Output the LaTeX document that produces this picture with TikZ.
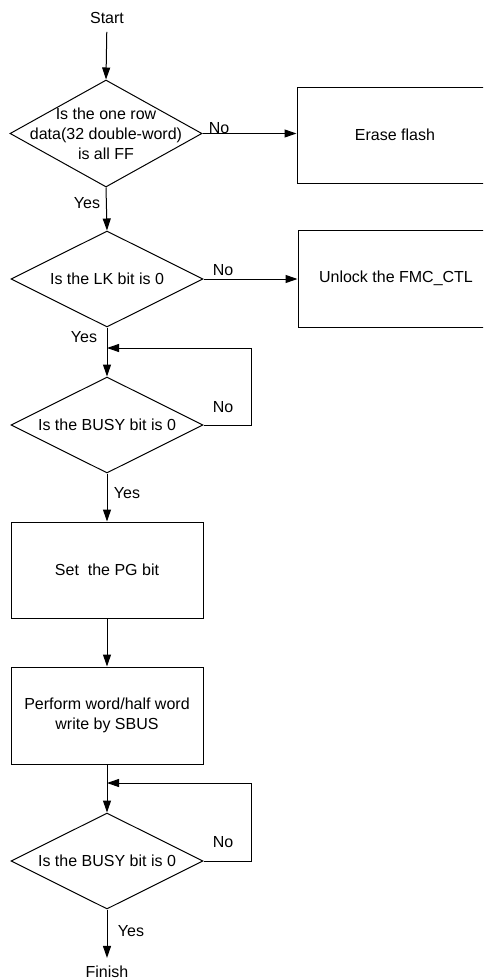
\documentclass[tikz,border=0pt]{standalone}
\usepackage{fontspec}
\setmainfont{Liberation Sans}
\usetikzlibrary{shapes.geometric,arrows.meta}

\tikzset{
  base/.style={font=\fontsize{16}{20}\selectfont},
  decision/.style={draw, diamond, line width=1pt, inner sep=0pt,
    minimum width=192pt, minimum height=96pt},
  procbox/.style={draw, rectangle, line width=1pt, inner sep=0pt,
    minimum width=192pt, minimum height=96pt},
  wideproc/.style={procbox, minimum width=196pt},
  txt/.style={base, align=center, inner sep=0pt},
  terminal/.style={base, inner xsep=2pt, inner ysep=8pt},
  lbl/.style={base, inner sep=0pt},
  arr/.style={line width=1pt, -{Triangle[length=12pt, width=8pt]}},
  ln/.style={line width=1pt},
}

\begin{document}
\begin{tikzpicture}[x=1pt, y=-1pt]
  \clip (0,0) rectangle (483,980);

  % terminals
  \node[terminal] (start) at (107,18) {Start};
  \node[terminal] (finish) at (107,972) {Finish};

  % decisions
  \node[decision, minimum height=107pt] (d1) at (106,133.5) {};
  \node[txt] (d1t) at (d1.center) {Is the one row\\data(32 double-word)\\is all FF};
  \node[decision] (d2) at (107,279) {};
  \node[txt] (d2t) at (d2.center) {Is the LK bit is 0};
  \node[decision] (d3) at (107,425) {};
  \node[txt] (d3t) at (d3.center) {Is the BUSY bit is 0};
  \node[decision] (d4) at (107,861) {};
  \node[txt] (d4t) at (d4.center) {Is the BUSY bit is 0};

  % side actions
  \node[wideproc] (erase) at (395,135) {};
  \node[txt] (eraset) at (erase.center) {Erase flash};
  \node[wideproc, minimum height=97pt] (unlock) at (396,278.5) {};
  \node[txt] (unlockt) at (unlock.center) {Unlock the FMC\_CTL};

  % main actions
  \node[procbox] (setpg) at (107,570) {};
  \node[txt] (setpgt) at (setpg.center) {Set\ \ the PG bit};
  \node[procbox, minimum height=97pt] (write) at (107,715.5) {};
  \node[txt] (writet) at (write.center) {Perform word/half word\\write by SBUS};

  % loop junctions
  \coordinate (j1) at (107,348);
  \coordinate (j2) at (107,783);

  % main flow
  \draw[arr] (start) -- (d1.north);
  \draw[arr] (d1.south) -- (d2.north);
  \draw[arr] (d2.south) -- (d3.north);
  \draw[arr] (d3.south) -- (setpg.north);
  \draw[arr] (setpg.south) -- (write.north);
  \draw[arr] (write.south) -- (d4.north);
  \draw[arr] (d4.south) -- (finish);

  % branches
  \draw[arr] (d1.east) -- (d1.east -| erase.west);
  \draw[arr] (d2.east) -- (d2.east -| unlock.west);

  % busy-wait loops
  \draw[arr] (d3.east) -- ++(48,0) |- (j1);
  \draw[arr] (d4.east) -- ++(48,0) |- (j2);

  % labels
  \node[lbl] (y1) at (87,203) {Yes};
  \node[lbl] (y2) at (84,337) {Yes};
  \node[lbl] (y3) at (127,493) {Yes};
  \node[lbl] (y4) at (131,931) {Yes};
  \node[lbl] (n1) at (219,128) {No};
  \node[lbl] (n2) at (223,270) {No};
  \node[lbl] (n3) at (223,407) {No};
  \node[lbl] (n4) at (223,842) {No};
\end{tikzpicture}
\end{document}
